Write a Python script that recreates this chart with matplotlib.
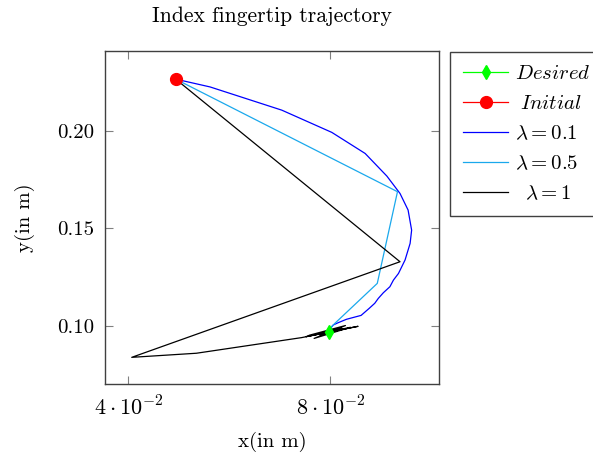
import matplotlib
matplotlib.use('Agg')
import matplotlib.pyplot as plt

plt.rcParams['font.family'] = 'cmr10'
plt.rcParams['mathtext.fontset'] = 'cm'
plt.rcParams['axes.unicode_minus'] = False

# Desired / initial fingertip positions (m)
desired = (0.0798, 0.0968)
initial = (0.0494, 0.2265)

# lambda = 0.1
x_01 = [0.0494, 0.0562, 0.0704, 0.0803, 0.0869, 0.0912, 0.0938, 0.0954, 0.0961,
        0.0958, 0.0948, 0.0935, 0.0925, 0.0918, 0.0905, 0.0895, 0.0888, 0.0877,
        0.0861, 0.0832, 0.0816, 0.0806, 0.0801, 0.0798]
y_01 = [0.2265, 0.2225, 0.2106, 0.1992, 0.1884, 0.1768, 0.1679, 0.1594, 0.1491,
        0.1423, 0.1338, 0.1269, 0.1235, 0.1201, 0.1170, 0.1141, 0.1116, 0.1090,
        0.1054, 0.1034, 0.1017, 0.1005, 0.0990, 0.0970]

# lambda = 0.5
x_05 = [0.0494, 0.0933, 0.0893, 0.0809, 0.0802, 0.0799, 0.0798]
y_05 = [0.2265, 0.1688, 0.1218, 0.1013, 0.0995, 0.0980, 0.0969]

# lambda = 1
x_1 = [0.0494, 0.0938, 0.0407, 0.0535, 0.0743, 0.0855, 0.0752, 0.0840, 0.0768,
       0.0830, 0.0758, 0.0822, 0.0780, 0.0815, 0.0788, 0.0808, 0.0794, 0.0798]
y_1 = [0.2265, 0.1329, 0.0839, 0.0860, 0.0940, 0.0998, 0.0945, 0.0993, 0.0936,
       0.1002, 0.0952, 0.0988, 0.0950, 0.0983, 0.0958, 0.0975, 0.0963, 0.0968]

x_ticks = [0.04, 0.08]
x_tick_labels = [r'$4\cdot10^{-2}$', r'$8\cdot10^{-2}$']
y_ticks = [0.10, 0.15, 0.20]
y_tick_labels = ['0.10', '0.15', '0.20']

fig = plt.figure(figsize=(5.93, 4.58), dpi=100)
ax = fig.add_axes([0.177, 0.161, 0.564, 0.728])

ax.plot(x_01, y_01, color='#0000ff', lw=0.9, label=r'$\lambda = 0.1$', zorder=2)
ax.plot(x_05, y_05, color='#1aa8ec', lw=0.9, label=r'$\lambda = 0.5$', zorder=2)
ax.plot(x_1, y_1, color='black', lw=0.9, label=r'$\;\;\lambda = 1$', zorder=2)
ax.plot([desired[0]], [desired[1]], color='#00ff00', marker='d', ms=7, lw=0.9,
        label=r'$Desired$', zorder=3)
ax.plot([initial[0]], [initial[1]], color='#ff0000', marker='o', ms=8.5, lw=0.9,
        label=r'$\;Initial$', zorder=3)

ax.set_xlim(0.0354, 0.1016)
ax.set_ylim(0.0701, 0.241)
ax.set_xticks(x_ticks)
ax.set_xticklabels(x_tick_labels)
ax.set_yticks(y_ticks)
ax.set_yticklabels(y_tick_labels)
ax.tick_params(direction='in', length=6, color='0.5', top=True, right=True,
               labelsize=15)
ax.tick_params(axis='x', pad=8, labelsize=16)
ax.tick_params(axis='y', pad=8)
for s in ax.spines.values():
    s.set_color('0.25')
    s.set_linewidth(1.0)

ax.set_title('Index fingertip trajectory', fontsize=15.5, pad=21)
ax.set_xlabel('x(in m)', fontsize=15, labelpad=9)
ax.set_ylabel('y(in m)', fontsize=15, labelpad=16)

handles, labels = ax.get_legend_handles_labels()
order = [3, 4, 0, 1, 2]
leg = fig.legend([handles[i] for i in order], [labels[i] for i in order],
                 loc='upper left', bbox_to_anchor=(0.759, 0.887),
                 fontsize=15, frameon=True, fancybox=False, edgecolor='0.25',
                 framealpha=1, handlelength=2.2, labelspacing=0.55,
                 borderpad=0.6, handletextpad=0.3, borderaxespad=0)
leg.get_frame().set_linewidth(1.0)

fig.savefig('out.png', dpi=100)
